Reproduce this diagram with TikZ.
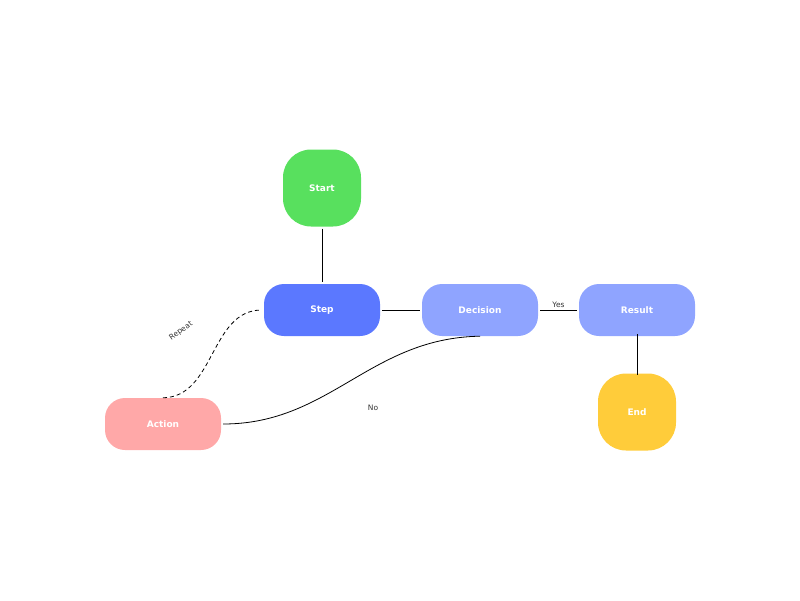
\documentclass[tikz,border=0pt]{standalone}
\usepackage{fontspec}
\setmainfont{DejaVu Sans}
\usetikzlibrary{positioning}
\definecolor{startgreen}{HTML}{58E05E}
\definecolor{stepblue}{HTML}{5B78FF}
\definecolor{paleblue}{HTML}{8FA4FF}
\definecolor{actionpink}{HTML}{FFA8A8}
\definecolor{endyellow}{HTML}{FFCC3A}
\tikzset{
    box/.style={
        rectangle, rounded corners=20pt, draw=none,
        minimum width=116pt, minimum height=52pt,
        text=white, font=\bfseries\fontsize{9}{11}\selectfont
    },
    round/.style={
        box, rounded corners=28pt,
        minimum width=78pt, minimum height=77pt
    },
    link/.style={draw=black, thick},
    edgelabel/.style={font=\fontsize{7.5}{9}\selectfont, text=black!80, inner sep=1pt}
}
\begin{document}
\begin{tikzpicture}[x=1pt, y=-1pt]
\useasboundingbox (0,0) rectangle (800,600);

% Nodes
\node[round, fill=startgreen] (start) at (322,188) {Start};
\node[box, fill=stepblue] (step) at (322,310) {Step};
\node[box, fill=paleblue] (decision) at (480,310) {Decision};
\node[box, fill=paleblue] (result) at (637,310) {Result};
\node[box, fill=actionpink] (action) at (163,424) {Action};
\node[round, fill=endyellow] (end) at (637,412) {End};

% Connectors
\draw[link] ([yshift=-2pt]start.south) -- ([yshift=2pt]step.north);
\draw[link] ([xshift=2pt]step.east) -- ([xshift=-2pt]decision.west);
\draw[link] ([xshift=2pt]decision.east) -- node[edgelabel, above=1pt] {Yes} ([xshift=-2pt]result.west);
\draw[link] ([yshift=2pt]result.south) -- ([yshift=-2pt]end.north);
\draw[link] ([xshift=2pt]action.east) .. controls (330,424) and (370,338) .. (decision.south);
\draw[link, dash pattern=on 4pt off 3pt] (action.north) .. controls (215,397) and (210,310) .. ([xshift=-2pt]step.west);

% Labels
\node[edgelabel] (nolabel) at (373,408) {No};
\node[edgelabel, rotate=35] (repeatlabel) at (181,331) {Repeat};

\end{tikzpicture}
\end{document}
